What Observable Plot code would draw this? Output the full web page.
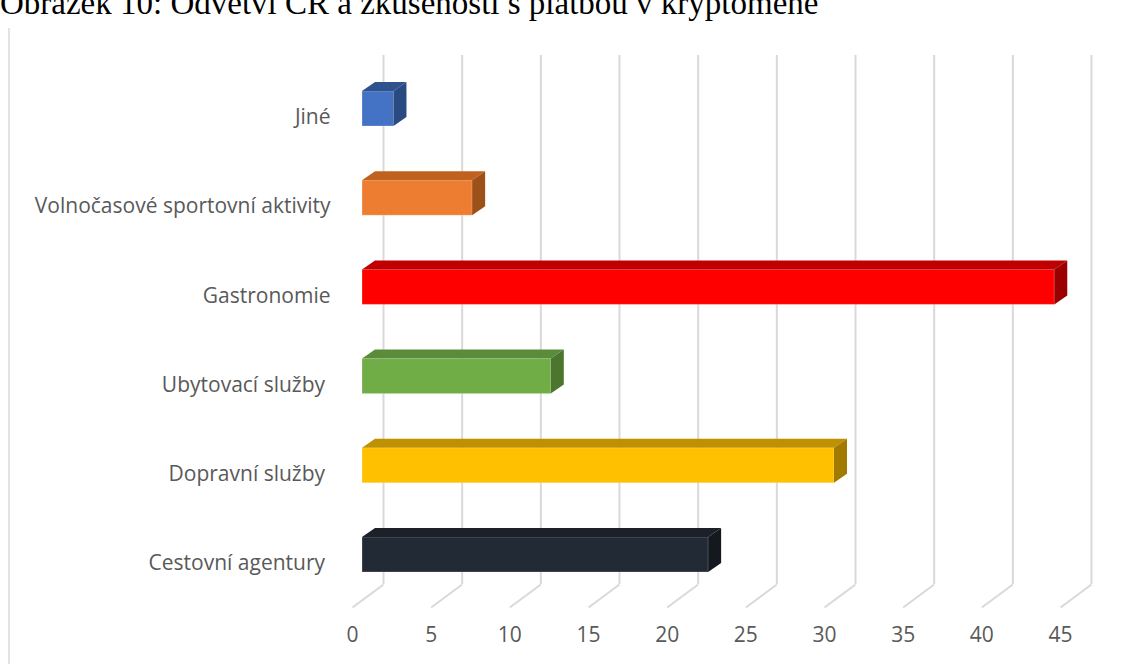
<!DOCTYPE html>
<html>
<head>
<meta charset="utf-8">
<script src="https://cdn.jsdelivr.net/npm/d3@7"></script>
<script src="https://cdn.jsdelivr.net/npm/@observablehq/plot@0.6"></script>
<style>
  html, body { margin: 0; padding: 0; background: #fff; overflow: hidden; }
  #wrap { position: relative; width: 1132px; height: 664px; }
  #title { position: absolute; left: 0; top: -13px; font-family: "Liberation Serif", "Times New Roman", serif; font-size: 33px; line-height: 33px; color: #000; white-space: nowrap; }
  #border { position: absolute; left: 8px; top: 28px; width: 2px; height: 640px; background: #e3e3e3; }
  #chart { position: absolute; left: 0; top: 0; }
  #chart svg text { white-space: pre; }
</style>
</head>
<body>
<div id="wrap">
  <div id="border"></div>
  <div id="chart"></div>
  <div id="title">Obrázek 10: Odvětví CR a zkušenosti s platbou v kryptoměně</div>
</div>
<script>
// ---- data ----
const categories = ["Jiné", "Volnočasové sportovní aktivity", "Gastronomie", "Ubytovací služby ", "Dopravní služby ", "Cestovní agentury "];
const values = [2, 7, 44, 12, 30, 22];
const frontColors = ["#4472C4", "#ED7D31", "#FF0000", "#70AD47", "#FFC000", "#222A35"];
const topColors   = ["#2F528F", "#C0621F", "#C00000", "#5B8C3A", "#BF9000", "#1B2029"];
const sideColors  = ["#2A4A82", "#9E5019", "#9B0000", "#4C7530", "#A37A00", "#141920"];
const xTicks = [0, 5, 10, 15, 20, 25, 30, 35, 40, 45];

// ---- layout (pixels) ----
const W = 1132, H = 664;
const xRange = [362, 1070];          // bar plane, value 0..45
const yRange = [108.5, 554.5];       // bar centres, first..last category
const kx = (xRange[1] - xRange[0]) / 45;
const ky = (yRange[1] - yRange[0]) / (categories.length - 1);
const halfBar = 17.5 / ky;           // half bar height in y units
const depthX = 13 / kx, depthY = -9 / ky;   // 3D depth of bars
const wallTop = 55, wallBottom = 584;       // back wall
const backDX = 21, frontDX = -10, floorDY = 23;   // floor lines

const rows = categories.map((c, i) => ({cat: c, i, value: values[i], front: frontColors[i], top: topColors[i], side: sideColors[i]}));

const topPts = rows.flatMap(r => [
  {z: r.cat, fill: r.top, x1: 0,       y1: r.i - halfBar, x2: depthX,           y2: r.i - halfBar + depthY},
  {z: r.cat, fill: r.top, x1: r.value, y1: r.i - halfBar, x2: r.value + depthX, y2: r.i - halfBar + depthY}
]);
const sidePts = rows.flatMap(r => [
  {z: r.cat, fill: r.side, x1: r.value, y1: r.i + halfBar, x2: r.value + depthX, y2: r.i + halfBar + depthY},
  {z: r.cat, fill: r.side, x1: r.value, y1: r.i - halfBar, x2: r.value + depthX, y2: r.i - halfBar + depthY}
]);

const yAt = px => (px - yRange[0]) / ky;

const chart = Plot.plot({
  width: W,
  height: H,
  marginTop: wallTop,
  marginBottom: H - wallBottom,
  marginLeft: xRange[0],
  marginRight: W - xRange[1],
  style: {fontFamily: "Open Sans", color: "#595959", background: "transparent", overflow: "visible"},
  x: {domain: [0, 45], range: xRange},
  y: {domain: [0, categories.length - 1], range: yRange},
  color: {type: "identity"},
  marks: [
    // back wall gridlines
    Plot.ruleX(xTicks, {x: d => d, dx: backDX, stroke: "#d9d9d9", strokeWidth: 2}),
    // floor gridlines
    Plot.link(xTicks, {
      x1: d => d + backDX / kx, y1: () => yAt(wallBottom),
      x2: d => d + frontDX / kx, y2: () => yAt(wallBottom + floorDY),
      stroke: "#d9d9d9", strokeWidth: 2
    }),
    // bars: front faces
    Plot.rect(rows, {x1: 0, x2: "value", y1: r => r.i - halfBar, y2: r => r.i + halfBar, fill: "front", stroke: "#ffffff", strokeOpacity: 0.25, strokeWidth: 1}),
    // top faces
    Plot.area(topPts, {x1: "x1", y1: "y1", x2: "x2", y2: "y2", z: "z", fill: "fill"}),
    // side faces
    Plot.area(sidePts, {x1: "x1", y1: "y1", x2: "x2", y2: "y2", z: "z", fill: "fill"}),
    // axes
    Plot.axisX(xTicks, {tickSize: 0, tickPadding: 43, dx: frontDX, fontSize: 21, tickFormat: d => String(d)}),
    Plot.axisY(d3.range(categories.length), {tickSize: 0, tickPadding: 32, dy: 8.5, fontSize: 21, tickFormat: i => categories[i]})
  ]
});
document.getElementById("chart").appendChild(chart);
</script>
</body>
</html>
